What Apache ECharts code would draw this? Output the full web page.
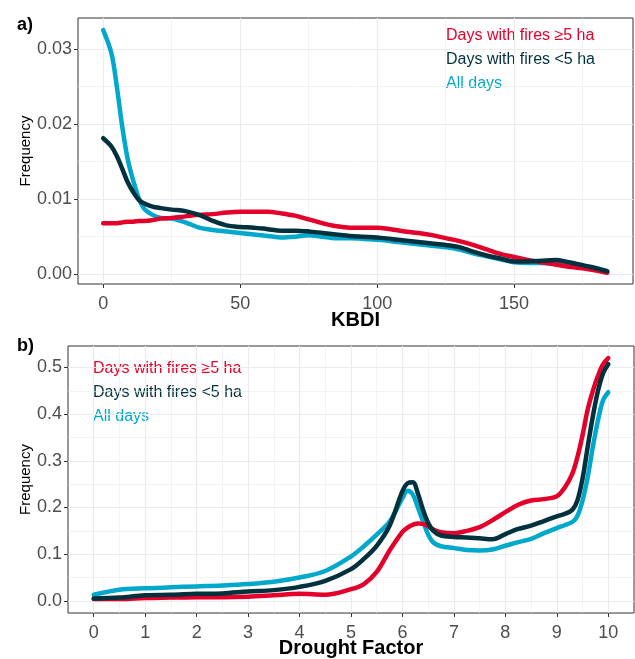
<!DOCTYPE html>
<html>
<head>
<meta charset="utf-8">
<script src="https://cdn.jsdelivr.net/npm/echarts@6/dist/echarts.min.js"></script>
<style>
  html, body { margin: 0; padding: 0; background: #fff; }
  #chart { width: 635px; height: 659px; }
</style>
</head>
<body>
<div id="chart"></div>
<script>
  // panel a) KBDI
  var kbdiX = [0, 3, 5, 7, 9, 11, 13, 15, 18, 21, 25, 30, 35, 40, 45, 50, 55, 60, 65, 70, 75, 80, 85, 90, 95, 100,
    105, 110, 115, 120, 125, 130, 135, 140, 145, 150, 155, 160, 165, 170, 175, 180, 184];
  var kbdiLarge = [0.0068, 0.0068, 0.0068, 0.0069, 0.0070, 0.0070, 0.0071, 0.0071, 0.0072, 0.0074, 0.0075, 0.0077,
    0.0079, 0.0080, 0.0082, 0.0083, 0.0083, 0.0083, 0.0081, 0.0078, 0.0073, 0.0068, 0.0064, 0.0062, 0.0062, 0.0062,
    0.0060, 0.0057, 0.0055, 0.0052, 0.0048, 0.0044, 0.0039, 0.0033, 0.0027, 0.0023, 0.0019, 0.0016, 0.0013, 0.0010,
    0.0008, 0.0005, 0.0002];
  var kbdiSmall = [0.0181, 0.0170, 0.0157, 0.0140, 0.0122, 0.0109, 0.0099, 0.0094, 0.0090, 0.0088, 0.0086, 0.0084,
    0.0079, 0.0071, 0.0065, 0.0063, 0.0062, 0.0060, 0.0058, 0.0058, 0.0057, 0.0055, 0.0053, 0.0051, 0.0050, 0.0049,
    0.0047, 0.0045, 0.0043, 0.0041, 0.0039, 0.0036, 0.0030, 0.0025, 0.0021, 0.0017, 0.0017, 0.0018, 0.0019, 0.0016,
    0.0012, 0.0008, 0.0004];
  var kbdiAll = [0.0325, 0.0294, 0.0249, 0.0195, 0.0152, 0.0124, 0.0101, 0.0087, 0.0079, 0.0075, 0.0074, 0.0069,
    0.0062, 0.0059, 0.0057, 0.0055, 0.0053, 0.0051, 0.0049, 0.0050, 0.0052, 0.0050, 0.0048, 0.0048, 0.0047, 0.0046,
    0.0044, 0.0042, 0.0040, 0.0038, 0.0036, 0.0033, 0.0028, 0.0024, 0.0020, 0.0016, 0.0015, 0.0015, 0.0014, 0.0012,
    0.0009, 0.0006, 0.0003];

  // panel b) Drought Factor
  var dfX = [0, 0.5, 1, 1.5, 2, 2.5, 3, 3.5, 4, 4.5, 5, 5.25, 5.5, 5.75, 6, 6.1, 6.2, 6.3, 6.4, 6.5, 6.6, 6.75, 7,
    7.25, 7.5, 7.75, 8, 8.25, 8.5, 8.75, 9, 9.15, 9.3, 9.4, 9.5, 9.6, 9.7, 9.8, 9.9, 10];
  var dfLarge = [0.004, 0.004, 0.006, 0.007, 0.008, 0.008, 0.009, 0.012, 0.015, 0.013, 0.025, 0.036, 0.062, 0.108,
    0.148, 0.157, 0.163, 0.166, 0.165, 0.160, 0.153, 0.147, 0.145, 0.150, 0.158, 0.173, 0.190, 0.206, 0.215, 0.218,
    0.224, 0.242, 0.272, 0.308, 0.355, 0.410, 0.450, 0.482, 0.507, 0.520];
  var dfSmall = [0.005, 0.007, 0.012, 0.013, 0.015, 0.016, 0.020, 0.023, 0.030, 0.043, 0.068, 0.090, 0.118, 0.161,
    0.235, 0.252, 0.254, 0.230, 0.195, 0.167, 0.150, 0.140, 0.137, 0.136, 0.134, 0.132, 0.143, 0.154, 0.161, 0.171,
    0.181, 0.186, 0.195, 0.215, 0.262, 0.330, 0.395, 0.450, 0.488, 0.507];
  var dfAll = [0.013, 0.024, 0.027, 0.029, 0.031, 0.033, 0.036, 0.041, 0.050, 0.064, 0.095, 0.117, 0.142, 0.170,
    0.220, 0.236, 0.228, 0.200, 0.170, 0.142, 0.125, 0.117, 0.113, 0.109, 0.108, 0.110, 0.118, 0.126, 0.133, 0.145,
    0.156, 0.162, 0.169, 0.182, 0.215, 0.265, 0.330, 0.387, 0.430, 0.447];

  // ticks
  var kbdiTicks = [0, 50, 100, 150];
  var kbdiMinor = [25, 75, 125, 175];
  var kbdiYTicks = [0, 0.01, 0.02, 0.03];
  var kbdiYMinor = [0.005, 0.015, 0.025];
  var dfTicks = [0, 1, 2, 3, 4, 5, 6, 7, 8, 9, 10];
  var dfMinor = [0.5, 1.5, 2.5, 3.5, 4.5, 5.5, 6.5, 7.5, 8.5, 9.5];
  var dfYTicks = [0, 0.1, 0.2, 0.3, 0.4, 0.5];
  var dfYMinor = [0.05, 0.15, 0.25, 0.35, 0.45];

  var seriesNames = ['Days with fires \u22655 ha', 'Days with fires <5 ha', 'All days'];
  var colors = ['#E4002B', '#00313C', '#00A8CC'];

  var FONT = "'Liberation Sans', Arial, sans-serif";

  function pairs(xs, ys) {
    return xs.map(function (x, i) { return [x, ys[i]]; });
  }

  function majorAxis(grid, ticks, min, max, fmt, name, isX) {
    var ax = {
      type: 'value', gridIndex: grid, min: min, max: max,
      position: isX ? 'bottom' : 'left',
      axisLine: { show: false, onZero: false },
      axisTick: { show: true, length: 4, customValues: ticks, lineStyle: { color: '#333', width: 1 } },
      axisLabel: {
        customValues: ticks, color: '#4D4D4D', fontSize: 18, fontFamily: FONT,
        margin: isX ? 11 : 6, formatter: fmt
      },
      splitLine: { show: true, lineStyle: { color: '#EBEBEB', width: 1.1 } },
      name: name, nameLocation: 'middle', nameMoveOverlap: false,
      nameTextStyle: isX
        ? { color: '#000', fontSize: 20, fontWeight: 'bold', fontFamily: FONT }
        : { color: '#000', fontSize: 15, fontFamily: FONT }
    };
    return ax;
  }

  function minorAxis(grid, ticks, min, max, isX) {
    return {
      type: 'value', gridIndex: grid, min: min, max: max,
      position: isX ? 'bottom' : 'left',
      axisLine: { show: false, onZero: false },
      axisTick: { show: false, customValues: ticks },
      axisLabel: { show: false, customValues: ticks },
      splitLine: { show: true, lineStyle: { color: '#EBEBEB', width: 0.6 } }
    };
  }

  var xa = majorAxis(0, kbdiTicks, -9.2, 193.4, function (v) { return String(v); }, 'KBDI', true);
  xa.nameGap = 26;
  var ya = majorAxis(0, kbdiYTicks, -0.0013, 0.0341, function (v) { return v.toFixed(2); }, 'Frequency', false);
  ya.nameGap = 45;
  // x title of panel b is drawn as graphic text (the axis name would squeeze the grid at the page edge)
  var xb = majorAxis(1, dfTicks, -0.5, 10.5, function (v) { return String(v); }, '', true);
  var yb = majorAxis(1, dfYTicks, -0.026, 0.546, function (v) { return v.toFixed(1); }, 'Frequency', false);
  yb.nameGap = 35;

  function lineSeries(xi, yi, data, i) {
    return {
      name: seriesNames[i], type: 'line', xAxisIndex: xi, yAxisIndex: yi,
      data: data, smooth: 0.35, showSymbol: false, animation: false,
      lineStyle: { color: colors[i], width: 4.5, cap: 'round', join: 'round' },
      itemStyle: { color: colors[i] }
    };
  }

  function legendText(x, y, i) {
    return {
      type: 'text', left: x, top: y,
      style: { text: seriesNames[i], fill: colors[i], font: '16px ' + FONT }
    };
  }

  var chart = echarts.init(document.getElementById('chart'));
  chart.setOption({
    animation: false,
    backgroundColor: '#fff',
    grid: [
      { left: 78, top: 18, right: 2, height: 266, outerBoundsMode: 'none', show: true, borderColor: '#333', borderWidth: 1, backgroundColor: 'transparent' },
      { left: 68, top: 346, right: 1, height: 267, outerBoundsMode: 'none', show: true, borderColor: '#333', borderWidth: 1, backgroundColor: 'transparent' }
    ],
    xAxis: [xa, minorAxis(0, kbdiMinor, -9.2, 193.4, true), xb, minorAxis(1, dfMinor, -0.5, 10.5, true)],
    yAxis: [ya, minorAxis(0, kbdiYMinor, -0.0013, 0.0341, false), yb, minorAxis(1, dfYMinor, -0.026, 0.546, false)],
    series: [
      lineSeries(0, 0, pairs(kbdiX, kbdiAll), 2),
      lineSeries(0, 0, pairs(kbdiX, kbdiLarge), 0),
      lineSeries(0, 0, pairs(kbdiX, kbdiSmall), 1),
      lineSeries(2, 2, pairs(dfX, dfAll), 2),
      lineSeries(2, 2, pairs(dfX, dfLarge), 0),
      lineSeries(2, 2, pairs(dfX, dfSmall), 1)
    ],
    graphic: [
      { type: 'text', left: 17, top: 16, style: { text: 'a)', fill: '#000', font: 'bold 18px ' + FONT } },
      { type: 'text', left: 17, top: 337, style: { text: 'b)', fill: '#000', font: 'bold 18px ' + FONT } },
      {
        type: 'text', x: 351, y: 638,
        style: { text: 'Drought Factor', fill: '#000', font: 'bold 20px ' + FONT, align: 'center', verticalAlign: 'top' }
      },
      legendText(446, 28, 0),
      legendText(446, 52, 1),
      legendText(446, 76, 2),
      legendText(93, 361, 0),
      legendText(93, 385, 1),
      legendText(93, 409, 2)
    ]
  });
</script>
</body>
</html>
